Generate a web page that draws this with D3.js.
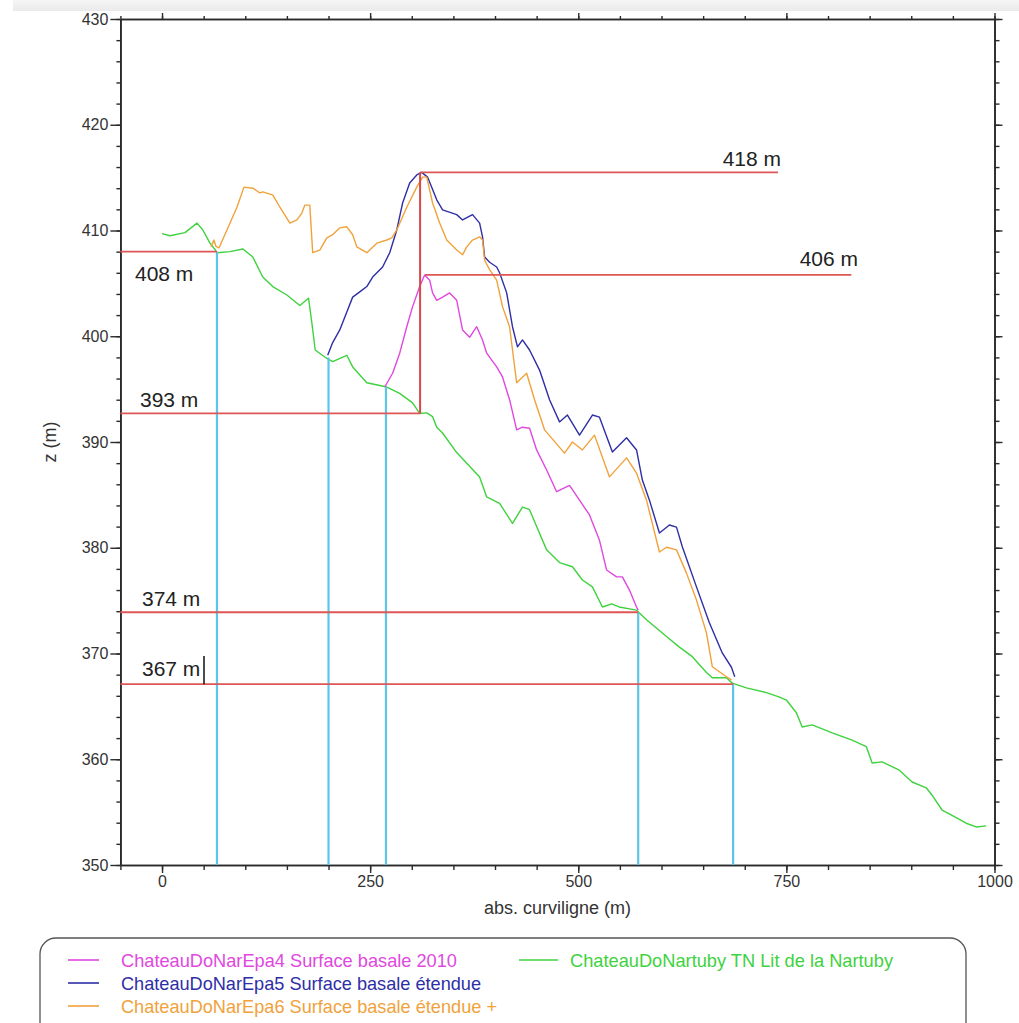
<!DOCTYPE html>
<html>
<head>
<meta charset="utf-8">
<script src="https://cdn.jsdelivr.net/npm/d3@7"></script>
<style>
  body { margin: 0; background: #fff; }
  svg { display: block; font-family: "Liberation Sans", Arial, sans-serif; }
</style>
</head>
<body>
<svg id="chart" width="1019" height="1023"></svg>
<script>
// profile data : [abs. curviligne (m), z (m)]
const tnLit = [[0,409.7],[9.6,409.5],[27.6,409.8],[42,410.7],[49,410.05],[57.6,408.8],[63.6,408.2],[66,407.9],
  [81.6,408],[97.2,408.25],[109,407.5],[121,405.6],[133,404.7],[150,403.9],[165.5,402.9],[176,403.6],[180,401.25],
  [184,398.7],[198,397.9],[205,397.6],[222,398.2],[229,397.1],[246,395.6],[270,395.2],[285.5,394.6],[301,393.7],
  [309.5,392.7],[318,392.75],[325,392.4],[330,391.4],[337,390.85],[354,389],[381.5,386.7],[390,384.8],[405.5,384.2],
  [421,382.3],[433,383.85],[441.5,383.6],[450,382],[462,379.8],[477.5,378.6],[493,378.2],[505,376.95],[517,376.3],
  [529,374.4],[540,374.7],[549,374.4],[570,374.1],[582,373.2],[606,371.6],[621.5,370.6],[637,369.7],[654,368.2],
  [661,367.7],[678,367.7],[685,367.2],[702,366.75],[726,366.3],[741,365.9],[750,365.6],[762,364.4],[769,363.05],
  [781,363.25],[805,362.5],[829,361.8],[846,361.2],[853,359.65],[865,359.75],[885,359],[901,357.85],[918,357.3],
  [925,356.6],[937,355.2],[949,354.7],[966,353.95],[978,353.6],[990,353.7]];

const epa4 = [[267.5,395.2],[277,396.5],[285.5,398.4],[294,400.9],[301,402.8],[309.5,404.7],[315.5,405.8],[321.5,405.3],
  [325,404.1],[330,403.4],[337,403.7],[345.5,404.1],[354,403.4],[361,400.6],[369.5,399.9],[378,400.9],[385,399.65],
  [390,398.4],[402,397.1],[409,396.15],[417.5,394],[426,391.15],[433,391.4],[441.5,391.3],[450,389.25],[462,387.35],
  [474,385.3],[489.5,385.9],[501.5,384.5],[513.5,383.1],[525.5,380.7],[534,377.9],[546,377.25],[553,377.25],
  [561.5,376],[570,374.4],[572,374.1]];

const epa5 = [[199,398.2],[205,399.4],[213.5,400.6],[222,402.3],[229,403.7],[237.5,404.2],[246,404.7],[253,405.6],
  [265,406.55],[273.5,407.9],[282,410.05],[289,412.6],[297.5,414.5],[306,415.25],[312,415.5],[319,415.05],[330,412.9],
  [337,411.95],[354,411.5],[361,411],[373,411.5],[381.5,410.7],[385,409.4],[387.5,407.5],[393.5,407],[402,406.55],
  [405.5,406],[414,404.1],[421,400.9],[427,399],[433,399.65],[441.5,398.7],[453.5,396.8],[465.5,394],[477.5,391.9],
  [487,392.55],[501.5,390.65],[517,392.55],[525.5,392.35],[541,389.05],[558,390.4],[570,389.25],[577,386.4],
  [585.5,384.5],[597.5,381.4],[609.5,382.15],[618,381.95],[625,380.1],[642,376.3],[657.5,372.9],[673,370.05],
  [684,368.7],[688,367.8]];

const epa6 = [[58.8,408.45],[62.4,409.1],[64.8,408.5],[68.4,408.35],[78,410.05],[90,412.2],[98.4,414.1],[109.2,414],
  [117.6,413.55],[121.2,413.65],[133.2,413.35],[141.6,412.2],[153.6,410.7],[162,411],[168,411.65],[171.5,412.4],
  [177.5,412.4],[181,407.9],[189.5,408.15],[198,409.3],[205,409.6],[213.5,410.25],[222,410.35],[229,409.6],
  [234,408.45],[246,407.9],[258,408.8],[270,409.1],[276,409.3],[282,410.05],[294,412.2],[306,414.1],[313,415.05],
  [318,415.05],[325,412.6],[333.5,410.7],[342,409.1],[354,408.15],[361,407.7],[366,408.45],[373,409.1],[381.5,409.4],
  [385,409.1],[387.5,407.2],[393.5,406.3],[402,405.3],[409,402.8],[417.5,400.9],[426,395.6],[438,396.5],[447.5,394],
  [459.5,391.15],[483.5,388.95],[493,390],[505,389.25],[519.5,390.65],[537.5,386.7],[558,388.5],[570,387.05],
  [582,384.5],[597.5,379.6],[606,380.05],[618,379.8],[630,377.6],[642,375.05],[654,371.95],[661,368.75],[678,367.8],
  [684,367.5]];

const seriesNames = ["ChateauDoNarEpa4 Surface basale 2010", "ChateauDoNarEpa5 Surface basale étendue",
  "ChateauDoNarEpa6 Surface basale étendue +", "ChateauDoNartuby TN Lit de la Nartuby"];
const seriesColors = ["#e048e0", "#2e2ea6", "#f0a23c", "#3fd23f"];

// annotations
const levelLabels = ["418 m", "406 m", "408 m", "393 m", "374 m", "367 m"];
const levelZ = [415.5, 405.8, 408, 392.7, 373.9, 367.1];
const levelFrom = [310, 316, -50, -50, -50, -50];
const levelTo = [740, 828, 66, 310, 572, 686];
const dropX = [66, 200, 269, 572, 686];
const dropZ = [408, 398, 395.2, 373.9, 367.1];

const xMajor = [0, 250, 500, 750, 1000];
const yMajor = [350, 360, 370, 380, 390, 400, 410, 420, 430];

const svg = d3.select("#chart");
const plotLeft = 120.4, plotRight = 994.5, plotTop = 19, plotBottom = 865;

const x = d3.scaleLinear().domain([-50, 1000]).range([plotLeft, plotRight]);
const y = d3.scaleLinear().domain([350, 430]).range([plotBottom, plotTop]);

const xMinor = d3.range(-50, 1001, 50);
const yMinor = d3.range(350, 431, 2);

function styleAxis(g) {
  g.selectAll("path").attr("stroke", "#2a2a2a").attr("stroke-width", 1.6);
  g.selectAll("line").attr("stroke", "#2a2a2a").attr("stroke-width", 1.4);
  g.selectAll("text").attr("fill", "#333").style("font-size", "16px")
    .style("font-family", '"Liberation Sans", Arial, sans-serif');
}

// minor ticks
svg.append("g").attr("transform", `translate(0,${plotBottom})`)
  .call(d3.axisBottom(x).tickValues(xMinor).tickSize(5).tickFormat("").tickSizeOuter(0)).call(styleAxis);
svg.append("g").attr("transform", `translate(0,${plotTop})`)
  .call(d3.axisTop(x).tickValues(xMinor).tickSize(3).tickFormat("").tickSizeOuter(0)).call(styleAxis);
svg.append("g").attr("transform", `translate(${plotLeft},0)`)
  .call(d3.axisLeft(y).tickValues(yMinor).tickSize(4).tickFormat("").tickSizeOuter(0)).call(styleAxis);
svg.append("g").attr("transform", `translate(${plotRight},0)`)
  .call(d3.axisRight(y).tickValues(yMinor).tickSize(5).tickFormat("").tickSizeOuter(0)).call(styleAxis);

// major ticks
svg.append("g").attr("transform", `translate(0,${plotBottom})`)
  .call(d3.axisBottom(x).tickValues(xMajor).tickSize(8).tickPadding(3).tickFormat(d3.format("d")).tickSizeOuter(0))
  .call(styleAxis);
svg.append("g").attr("transform", `translate(0,${plotTop})`)
  .call(d3.axisTop(x).tickValues(xMajor).tickSize(6).tickFormat("").tickSizeOuter(0)).call(styleAxis);
svg.append("g").attr("transform", `translate(${plotLeft},0)`)
  .call(d3.axisLeft(y).tickValues(yMajor).tickSize(10).tickPadding(2).tickSizeOuter(0)).call(styleAxis);
svg.append("g").attr("transform", `translate(${plotRight},0)`)
  .call(d3.axisRight(y).tickValues(yMajor).tickSize(8).tickFormat("").tickSizeOuter(0)).call(styleAxis);

// axis titles
svg.append("text").attr("x", (plotLeft + plotRight) / 2).attr("y", 914)
  .attr("text-anchor", "middle").attr("fill", "#333").style("font-size", "18px")
  .text("abs. curviligne (m)");
svg.append("text").attr("transform", `translate(56,${(plotTop + plotBottom) / 2}) rotate(-90)`)
  .attr("text-anchor", "middle").attr("fill", "#333").style("font-size", "18px")
  .text("z (m)");

// profiles
const line = d3.line().x(d => x(d[0])).y(d => y(d[1]));
const profiles = [tnLit, epa4, epa5, epa6];
const profileColors = [seriesColors[3], seriesColors[0], seriesColors[1], seriesColors[2]];
svg.append("g").selectAll("path").data(profiles).enter().append("path")
  .attr("d", line).attr("fill", "none")
  .attr("stroke", (d, i) => profileColors[i])
  .attr("stroke-width", 1.4).attr("stroke-linejoin", "round");

// cyan drop lines
svg.append("g").selectAll("line").data(dropX).enter().append("line")
  .attr("x1", d => x(d)).attr("x2", d => x(d))
  .attr("y1", y(350)).attr("y2", (d, i) => y(dropZ[i]))
  .attr("stroke", "#5cc6ea").attr("stroke-width", 2.2);

// red level lines
svg.append("g").selectAll("line").data(levelZ).enter().append("line")
  .attr("x1", (d, i) => x(levelFrom[i])).attr("x2", (d, i) => x(levelTo[i]))
  .attr("y1", d => y(d)).attr("y2", d => y(d))
  .attr("stroke", "#de5656").attr("stroke-width", 1.8);
// vertical red join
svg.append("line").attr("x1", x(310)).attr("x2", x(310))
  .attr("y1", y(levelZ[3])).attr("y2", y(levelZ[0]))
  .attr("stroke", "#d84848").attr("stroke-width", 2);

// level labels
const labelPos = [[781, 166, "end"], [858, 266, "end"], [135, 281, "start"], [140, 407, "start"],
  [142, 606, "start"], [142, 676, "start"]];
svg.append("g").selectAll("text").data(levelLabels).enter().append("text")
  .attr("x", (d, i) => labelPos[i][0]).attr("y", (d, i) => labelPos[i][1])
  .attr("text-anchor", (d, i) => labelPos[i][2])
  .attr("fill", "#222").style("font-size", "21px")
  .text(d => d);
// text cursor left in the label
svg.append("line").attr("x1", 204).attr("x2", 204).attr("y1", 656).attr("y2", y(levelZ[5]))
  .attr("stroke", "#111").attr("stroke-width", 1.5);

// legend
const legend = svg.append("g");
legend.append("rect").attr("x", 40).attr("y", 938).attr("width", 926).attr("height", 130)
  .attr("rx", 16).attr("fill", "#fff").attr("stroke", "#555").attr("stroke-width", 1.3);
const legendPos = [[68, 960], [68, 983], [68, 1006], [519, 960]];
const legendWidths = [336, 360, 376, 323];
const items = legend.selectAll("g.item").data(seriesNames).enter().append("g")
  .attr("transform", (d, i) => `translate(${legendPos[i][0]},${legendPos[i][1]})`);
items.append("line").attr("x1", 0).attr("x2", (d, i) => i === 3 ? 39 : 31)
  .attr("stroke", (d, i) => seriesColors[i]).attr("stroke-width", 1.6);
items.append("text").attr("x", (d, i) => i === 3 ? 51 : 53).attr("y", 7)
  .attr("fill", (d, i) => seriesColors[i]).style("font-size", "19px")
  .attr("textLength", (d, i) => legendWidths[i]).attr("lengthAdjust", "spacingAndGlyphs")
  .text(d => d);

// grey strip at the top of the screenshot
const defs = svg.append("defs");
const grad = defs.append("linearGradient").attr("id", "strip").attr("x1", 0).attr("x2", 0).attr("y1", 0).attr("y2", 1);
grad.append("stop").attr("offset", "0%").attr("stop-color", "#f4f4f4");
grad.append("stop").attr("offset", "100%").attr("stop-color", "#e8e8e8");
svg.append("rect").attr("x", 13).attr("y", 0).attr("width", 1006).attr("height", 11)
  .attr("fill", "url(#strip)").attr("opacity", 0.9);
</script>
</body>
</html>
